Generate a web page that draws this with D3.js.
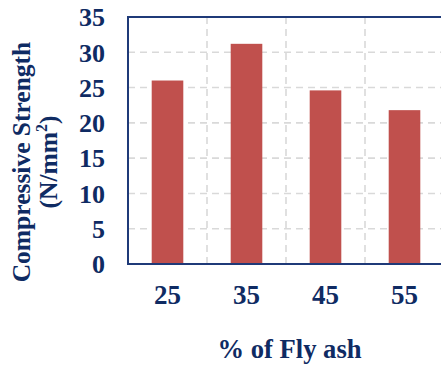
<!DOCTYPE html>
<html><head><meta charset="utf-8">
<script src="https://cdn.jsdelivr.net/npm/d3@7"></script>
<style>html,body{margin:0;padding:0;background:#fff;}</style>
</head><body>
<svg id="c" width="441" height="367"></svg>
<script>
const categories = ["25", "35", "45", "55"];
const values = [26.0, 31.2, 24.6, 21.8];
const yTicks = [0, 5, 10, 15, 20, 25, 30, 35];
const xTitle = "% of Fly ash";
const yTitle1 = "Compressive Strength";

const navy = "#0F2B63";
const axisColor = "#1F3A78";
const svg = d3.select("#c");
const m = {l:128, t:17, r:444, b:264};
const x = d3.scaleBand().domain(categories).range([m.l, m.r]).paddingInner(0).paddingOuter(0);
const y = d3.scaleLinear().domain([0, 35]).range([m.b, m.t]);
const font = "'Liberation Serif','Times New Roman',serif";

// gridlines
svg.append("g").selectAll("line").data(yTicks.filter(d => d > 0 && d < 35)).join("line")
  .attr("x1", m.l).attr("x2", m.r).attr("y1", d => y(d)).attr("y2", d => y(d))
  .attr("stroke", "#D9D9D9").attr("stroke-width", 1.6).attr("stroke-dasharray", "7,5");
svg.append("g").selectAll("line").data(categories.slice(1)).join("line")
  .attr("x1", d => x(d)).attr("x2", d => x(d)).attr("y1", m.t).attr("y2", m.b)
  .attr("stroke", "#D9D9D9").attr("stroke-width", 1.6).attr("stroke-dasharray", "7,5");

// bars
const bw = x.bandwidth() * 0.4;
svg.append("g").selectAll("rect").data(values).join("rect")
  .attr("x", (d, i) => x(categories[i]) + x.bandwidth()/2 - bw/2)
  .attr("width", bw)
  .attr("y", d => y(d)).attr("height", d => y(0) - y(d))
  .attr("fill", "#C0504D");

// frame
svg.append("rect").attr("x", m.l).attr("y", m.t).attr("width", m.r - m.l).attr("height", m.b - m.t)
  .attr("fill", "none").attr("stroke", axisColor).attr("stroke-width", 2);

// y axis labels
const yAxis = d3.axisLeft(y).tickValues(yTicks).tickSize(0).tickPadding(23);
const ga = svg.append("g").attr("transform", `translate(${m.l},0)`).call(yAxis);
ga.select(".domain").remove();
ga.selectAll("text").attr("fill", navy).attr("font-family", font).attr("font-weight", "bold").attr("font-size", 26).attr("dy", "0.34em");

// x axis labels
const xAxis = d3.axisBottom(x).tickSize(0).tickPadding(0);
const gx = svg.append("g").attr("transform", `translate(0,${m.b})`).call(xAxis);
gx.select(".domain").remove();
gx.selectAll("text").attr("fill", navy).attr("font-family", font).attr("font-weight", "bold").attr("font-size", 27).attr("dy", null).attr("y", 39.5);

// x title
svg.append("text").attr("x", 289.5).attr("y", 358).attr("text-anchor", "middle")
  .attr("fill", navy).attr("font-family", font).attr("font-weight", "bold").attr("font-size", 26.6).text(xTitle);

// y title
const yt = svg.append("text").attr("transform", "translate(0,162) rotate(-90)").attr("text-anchor", "middle")
  .attr("fill", navy).attr("font-family", font).attr("font-weight", "bold").attr("font-size", 25.5);
yt.append("tspan").attr("x", 0).attr("y", 30).text(yTitle1);
const t2 = yt.append("tspan").attr("x", 0).attr("y", 57);
t2.append("tspan").text("(N/mm");
t2.append("tspan").attr("font-size", 16).attr("dy", -10).text("2");
t2.append("tspan").attr("dy", 10).text(")");
</script>
</body></html>
